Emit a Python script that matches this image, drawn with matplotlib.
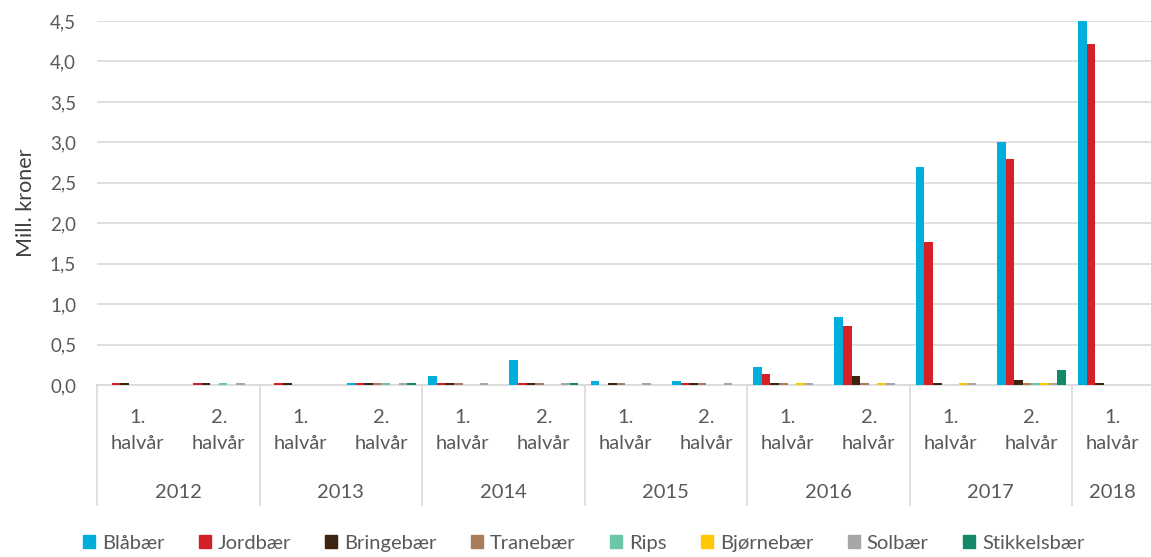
import matplotlib
matplotlib.use("Agg")
import matplotlib.pyplot as plt
import matplotlib.patches as mpatches
import numpy as np

plt.rcParams['font.family'] = ['Lato', 'DejaVu Sans']

years = ["2012", "2013", "2014", "2015", "2016", "2017", "2018"]
halves = ["1.", "2.", "1.", "2.", "1.", "2.", "1.", "2.", "1.", "2.", "1.", "2.", "1."]
half_word = "halvår"

series_names = ["Blåbær", "Jordbær", "Bringebær", "Tranebær", "Rips", "Bjørnebær", "Solbær", "Stikkelsbær"]
colors = ["#00AEDB", "#D42027", "#3E2413", "#A97C5E", "#6CC7A8", "#FFC800", "#A6A6A6", "#14896A"]

blabaer      = [0.0, 0.0, 0.0, 0.02, 0.11, 0.31, 0.053, 0.053, 0.22, 0.835, 2.70, 3.00, 4.50]
jordbaer     = [0.02, 0.02, 0.02, 0.02, 0.02, 0.02, 0.0, 0.02, 0.135, 0.725, 1.77, 2.80, 4.21]
bringebaer   = [0.02, 0.02, 0.02, 0.02, 0.02, 0.02, 0.02, 0.02, 0.02, 0.107, 0.02, 0.06, 0.02]
tranebaer    = [0.0, 0.0, 0.0, 0.02, 0.02, 0.02, 0.02, 0.02, 0.02, 0.02, 0.0, 0.02, 0.0]
rips         = [0.0, 0.02, 0.0, 0.02, 0.0, 0.0, 0.0, 0.0, 0.0, 0.0, 0.0, 0.02, 0.0]
bjornebaer   = [0.0, 0.0, 0.0, 0.0, 0.0, 0.0, 0.0, 0.0, 0.02, 0.02, 0.02, 0.02, 0.0]
solbaer      = [0.0, 0.02, 0.0, 0.02, 0.02, 0.02, 0.02, 0.02, 0.02, 0.02, 0.02, 0.02, 0.0]
stikkelsbaer = [0.0, 0.0, 0.0, 0.02, 0.0, 0.02, 0.0, 0.0, 0.0, 0.0, 0.0, 0.185, 0.0]

data = [blabaer, jordbaer, bringebaer, tranebaer, rips, bjornebaer, solbaer, stikkelsbaer]
yticks = [0.0, 0.5, 1.0, 1.5, 2.0, 2.5, 3.0, 3.5, 4.0, 4.5]

W, H = 1151, 557
fig = plt.figure(figsize=(W / 100, H / 100), dpi=100)
ax = fig.add_axes([97 / W, 1 - 385 / H, 1 - 97 / W, (385 - 21) / H])

n = len(halves)
x = np.arange(n)
bw = 0.106
for i, (vals, c, name) in enumerate(zip(data, colors, series_names)):
    ax.bar(x + (i - 3.5) * bw, vals, width=bw, color=c, label=name, zorder=3)

ax.set_xlim(-0.5, -0.5 + (W - 97) / 81.25)
ax.set_ylim(0, 4.5)
ax.set_yticks(yticks)
ax.set_yticklabels([f"{v:.1f}".replace(".", ",") for v in yticks])
ax.tick_params(axis='y', length=0, pad=15, labelsize=13.5, labelcolor="#595959")
ax.set_xticks([])
ax.grid(axis='y', color="#D9D9D9", linewidth=1.2, zorder=0)
for s in ["top", "right", "left"]:
    ax.spines[s].set_visible(False)
ax.spines["bottom"].set_color("#D9D9D9")
ax.spines["bottom"].set_linewidth(1.2)
ax.spines["bottom"].set_zorder(2)

ax.set_ylabel("Mill. kroner", fontsize=15.5, color="#404040")
ax.yaxis.set_label_coords(-0.058, 0.5)

tr = ax.get_xaxis_transform()
fs = 14.5
for i in range(n):
    ax.text(x[i], -0.088, halves[i], transform=tr, ha='center', va='center',
            fontsize=fs, color="#595959", clip_on=False)
    ax.text(x[i], -0.16, half_word, transform=tr, ha='center', va='center',
            fontsize=fs, color="#595959", clip_on=False)

# year labels and separators
year_spans = [(0, 1), (2, 3), (4, 5), (6, 7), (8, 9), (10, 11), (12, 12)]
for yr, (a, b) in zip(years, year_spans):
    center = (a + b) / 2
    ax.text(center, -0.295, yr, transform=tr, ha='center', va='center',
            fontsize=fs, color="#595959", clip_on=False)
    ax.plot([a - 0.5, a - 0.5], [0, -0.33], transform=tr, color="#D9D9D9",
            linewidth=1.2, clip_on=False)

handles = [mpatches.Patch(color=c, label=nm) for c, nm in zip(colors, series_names)]
leg = fig.legend(handles=handles, loc='center', bbox_to_anchor=(0.507, 0.025), ncol=8,
                 frameon=False, fontsize=14.5, handlelength=0.6, handleheight=0.6,
                 handletextpad=0.35, columnspacing=1.7)
for t in leg.get_texts():
    t.set_color("#595959")

fig.savefig("out.png", dpi=100)
